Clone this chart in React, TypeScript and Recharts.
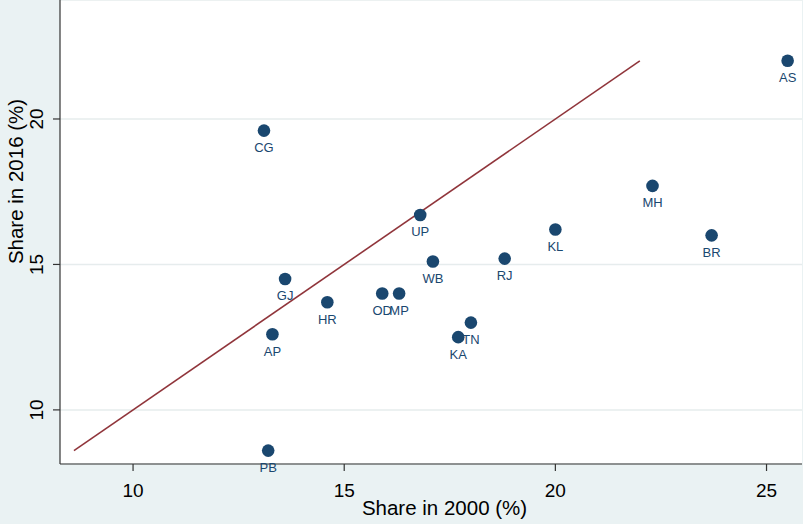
import React from 'react';
import { ScatterChart, Scatter, XAxis, YAxis, CartesianGrid } from 'recharts';

document.body.style.margin = '0';

const states = ['AS', 'CG', 'MH', 'KL', 'BR', 'UP', 'WB', 'RJ', 'GJ', 'HR', 'OD', 'MP', 'TN', 'KA', 'AP', 'PB'];
const share2000 = [25.5, 13.1, 22.3, 20.0, 23.7, 16.8, 17.1, 18.8, 13.6, 14.6, 15.9, 16.3, 18.0, 17.7, 13.3, 13.2];
const share2016 = [22.0, 19.6, 17.7, 16.2, 16.0, 16.7, 15.1, 15.2, 14.5, 13.7, 14.0, 14.0, 13.0, 12.5, 12.6, 8.6];
const lineX = [8.6, 22];
const lineY = [8.6, 22];
const xTicks = [10, 15, 20, 25];
const yTicks = [10, 15, 20];

const points = states.map((name, i) => ({ name, x: share2000[i], y: share2016[i] }));
const fitLine = lineX.map((x, i) => ({ x, y: lineY[i] }));

const FONT = "'Liberation Sans', Arial, sans-serif";
const NAVY = '#1a476f';

// marker plus its label underneath, like Stata's mlabel(pos 6)
const StateDot = (props: any) => {
  const { cx, cy, payload } = props;
  return (
    <g>
      <circle cx={cx} cy={cy} r={6.3} fill={NAVY} />
      <text x={cx} y={cy + 21.5} textAnchor="middle" fontSize={13} fontFamily={FONT} fill={NAVY}>
        {payload.name}
      </text>
    </g>
  );
};

const XTick = (props: any) => {
  const { x, payload } = props;
  return (
    <text x={x} y={497} textAnchor="middle" fontSize={19} fontFamily={FONT} fill="#000">
      {payload.value}
    </text>
  );
};

const YTick = (props: any) => {
  const { y, payload } = props;
  return (
    <text x={43} y={y} transform={`rotate(-90 43 ${y})`} textAnchor="middle" fontSize={19} fontFamily={FONT} fill="#000">
      {payload.value}
    </text>
  );
};

export default function App() {
  return (
    <div style={{ width: 803, height: 524, background: '#eaf2f3' }}>
      <ScatterChart width={803} height={524} margin={{ top: 0, right: 1, bottom: 0, left: 0 }}>
        <CartesianGrid vertical={false} fill="#ffffff" stroke="#e6eced" strokeWidth={1.5} />
        <XAxis
          type="number"
          dataKey="x"
          domain={[8.27, 25.84]}
          ticks={xTicks}
          height={60}
          tickSize={7}
          tick={<XTick />}
          axisLine={{ stroke: '#333', strokeWidth: 1.2 }}
          tickLine={{ stroke: '#333', strokeWidth: 1.2 }}
        />
        <YAxis
          type="number"
          dataKey="y"
          domain={[8.14, 24.09]}
          ticks={yTicks}
          width={60}
          tickSize={7}
          tick={<YTick />}
          axisLine={{ stroke: '#333', strokeWidth: 1.2 }}
          tickLine={{ stroke: '#333', strokeWidth: 1.2 }}
        />
        <Scatter data={fitLine} line={{ stroke: '#90353b', strokeWidth: 1.6 }} shape={() => <g />} isAnimationActive={false} />
        <Scatter data={points} shape={<StateDot />} isAnimationActive={false} />
        <text x={444.5} y={515} textAnchor="middle" fontSize={20.5} fontFamily={FONT} fill="#000">
          Share in 2000 (%)
        </text>
        <text x={23} y={181.5} transform="rotate(-90 23 181.5)" textAnchor="middle" fontSize={20.5} fontFamily={FONT} fill="#000">
          Share in 2016 (%)
        </text>
      </ScatterChart>
    </div>
  );
}
